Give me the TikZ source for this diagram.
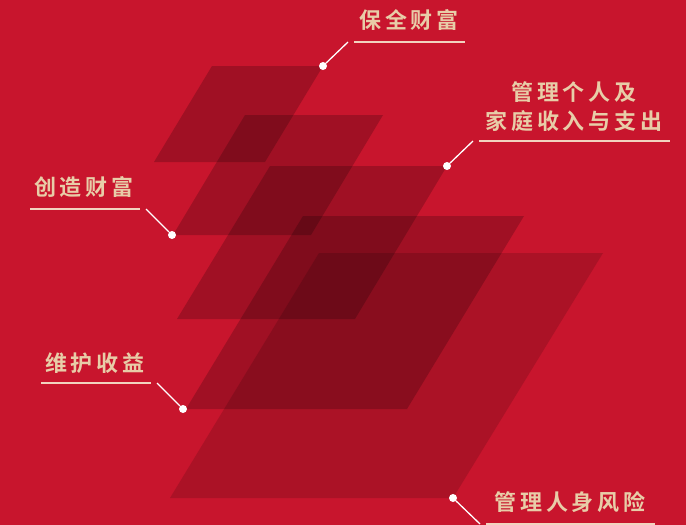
\documentclass[tikz,border=0pt]{standalone}
\usepackage{fontspec}
\newfontfamily\cjk[LetterSpace=18]{Noto Sans CJK SC Bold}
\usetikzlibrary{positioning}
\definecolor{bgred}{HTML}{C8152D}
\definecolor{gold}{HTML}{E8CDA8}
\definecolor{rulegold}{HTML}{F2D3BF}

\begin{document}
\begin{tikzpicture}[x=1pt, y=-1pt, plane/.style={fill=black, fill opacity=0.2}, lightplane/.style={fill=black, fill opacity=0.14}, caption/.style={text=gold, inner sep=0pt, font=\cjk\fontsize{22}{29}\selectfont}, dot/.style={circle, fill=white, inner sep=0pt, minimum size=8pt}, leader/.style={white, line width=1.3pt}, underline/.style={rulegold, line width=1.5pt}]
        \useasboundingbox (0,0) rectangle (686,525);
        \fill[bgred] (0,0) rectangle (686,525);
        % planes, back to front
        \fill[plane] (212,66) -- (323,66) -- (265,162) -- (154,162) -- cycle;
        \fill[plane] (245,115) -- (383,115) -- (311,235) -- (173,235) -- cycle;
        \fill[plane] (270,166) -- (447,166) -- (355,319) -- (177,319) -- cycle;
        \fill[plane] (303,216) -- (524,216) -- (407,409) -- (186,409) -- cycle;
        \fill[lightplane] (319,253) -- (603,253) -- (453,498) -- (170,498) -- cycle;
        % labels
        \node[caption] (keep) at (409,20) {保全财富};
        \node[caption, align=center] (manage) at (574,107) {管理个人及\\家庭收入与支出};
        \node[caption] (create) at (84,187) {创造财富};
        \node[caption] (protect) at (95,363) {维护收益};
        \node[caption] (risk) at (570,502) {管理人身风险};
        % underlines
        \coordinate (keepL) at (348,42);
        \coordinate (manageL) at (473,141);
        \coordinate (createR) at (146,209);
        \coordinate (protectR) at (157,383);
        \coordinate (riskL) at (480,524);
        \draw[underline] (354,42) -- (465,42);
        \draw[underline] (479,141) -- (670,141);
        \draw[underline] (30,209) -- (140,209);
        \draw[underline] (41,383) -- (151,383);
        \draw[underline] (486,524) -- (655,524);
        % dots and leaders
        \node[dot] (d1) at (323,66) {};
        \node[dot] (d2) at (447,166) {};
        \node[dot] (d3) at (172,235) {};
        \node[dot] (d4) at (183,409) {};
        \node[dot] (d5) at (453,498) {};
        \draw[leader] (d1) -- (keepL);
        \draw[leader] (d2) -- (manageL);
        \draw[leader] (d3) -- (createR);
        \draw[leader] (d4) -- (protectR);
        \draw[leader] (d5) -- (riskL);
    \end{tikzpicture}
\end{document}
